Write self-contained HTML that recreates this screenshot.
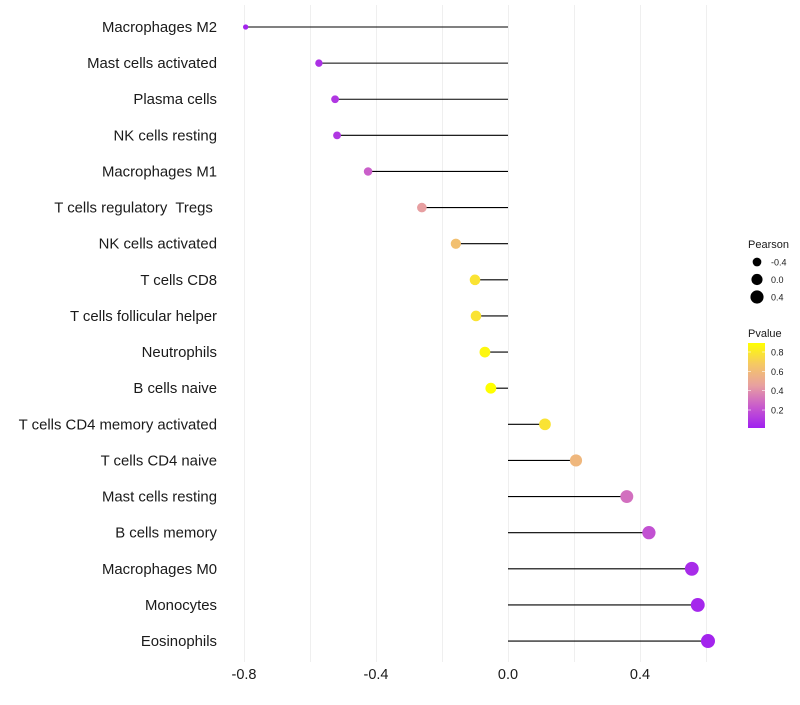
<!DOCTYPE html>
<html><head><meta charset="utf-8">
<style>body{margin:0;background:#fff;font-family:"Liberation Sans",sans-serif;} text{white-space:pre;}</style>
</head><body>
<svg id="chart" width="800" height="700" xmlns="http://www.w3.org/2000/svg" font-family="Liberation Sans, sans-serif" xml:space="preserve"></svg>
<script>
const categories=["Macrophages M2","Mast cells activated","Plasma cells","NK cells resting","Macrophages M1","T cells regulatory  Tregs ","NK cells activated","T cells CD8","T cells follicular helper","Neutrophils","B cells naive","T cells CD4 memory activated","T cells CD4 naive","Mast cells resting","B cells memory","Macrophages M0","Monocytes","Eosinophils"];
const pearson=[-0.795,-0.573,-0.524,-0.518,-0.424,-0.261,-0.158,-0.1,-0.097,-0.07,-0.052,0.112,0.206,0.36,0.427,0.557,0.575,0.606];
const pvalues=[0.03,0.08,0.1,0.1,0.25,0.45,0.63,0.78,0.78,0.86,0.9,0.78,0.58,0.3,0.2,0.06,0.04,0.03];
const xTicks=[-0.8,-0.4,0.0,0.4];
const gridVals=[-0.8,-0.6,-0.4,-0.2,0,0.2,0.4,0.6];
const sizeLegend=[-0.4,0.0,0.4];
const pLegend=[0.2,0.4,0.6,0.8];
const NS="http://www.w3.org/2000/svg";
const svg=document.getElementById('chart');
function el(t,a,p){const e=document.createElementNS(NS,t);for(const k in a)e.setAttribute(k,a[k]);(p||svg).appendChild(e);return e;}
const x=v=>508+v*330;
const y=i=>27+i*36.12;
const r=v=>Math.sqrt(Math.max(2.25,31+30.2*v));
const stops=[[0,[160,32,240]],[0.25,[200,90,205]],[0.5,[232,160,160]],[0.75,[245,200,100]],[1,[255,255,0]]];
function col(p){let t=Math.min(1,Math.max(0,(p-0.014)/(0.893-0.014)));for(let i=1;i<stops.length;i++){if(t<=stops[i][0]){const a=stops[i-1],b=stops[i];const f=(t-a[0])/(b[0]-a[0]);const c=a[1].map((v,k)=>Math.round(v+(b[1][k]-v)*f));return`rgb(${c})`;}}return'rgb(255,255,0)';}
gridVals.forEach(v=>{const g=el('line',{x1:Math.round(x(v))+0.5,x2:Math.round(x(v))+0.5,y1:5,y2:662,stroke:'#efefef','stroke-width':1});

});
xTicks.forEach(v=>{const t=el('text',{x:x(v),y:679,'text-anchor':'middle','font-size':14.5,fill:'#1a1a1a'});t.textContent=v.toFixed(1);

});
categories.forEach((c,i)=>{
const t=el('text',{x:217,y:y(i)+5,'text-anchor':'end','font-size':14.9,fill:'#1a1a1a'});t.textContent=c;


const l=el('line',{x1:x(0),x2:x(pearson[i]),y1:y(i),y2:y(i),stroke:'#000','stroke-width':1.1});


const d=el('circle',{cx:x(pearson[i]),cy:y(i),r:r(pearson[i]),fill:col(pvalues[i])});


});
const lt=el('text',{x:748,y:248,'font-size':11,fill:'#1a1a1a'});lt.textContent='Pearson';


sizeLegend.forEach((v,i)=>{const cy=262+i*17.5;
const c=el('circle',{cx:757,cy:cy,r:r(v),fill:'#000'});


const t=el('text',{x:771,y:cy+3.5,'font-size':9,fill:'#1a1a1a'});t.textContent=v.toFixed(1);

});
const pt=el('text',{x:748,y:337,'font-size':11,fill:'#1a1a1a'});pt.textContent='Pvalue';


const defs=el('defs',{});const lg=el('linearGradient',{id:'pg',x1:0,y1:1,x2:0,y2:0},defs);
stops.forEach(s=>el('stop',{offset:s[0],'stop-color':`rgb(${s[1]})`},lg));
const bar=el('rect',{x:748,y:343,width:17,height:85,fill:'url(#pg)'});


pLegend.forEach(v=>{const yy=428-(v-0.014)/(0.893-0.014)*85;
el('line',{x1:748,x2:751,y1:yy,y2:yy,stroke:'#fff','stroke-width':0.6});el('line',{x1:762,x2:765,y1:yy,y2:yy,stroke:'#fff','stroke-width':0.6});
const t=el('text',{x:771,y:yy+3.5,'font-size':9,fill:'#1a1a1a'});t.textContent=v.toFixed(1);

});
</script>
</body></html>
